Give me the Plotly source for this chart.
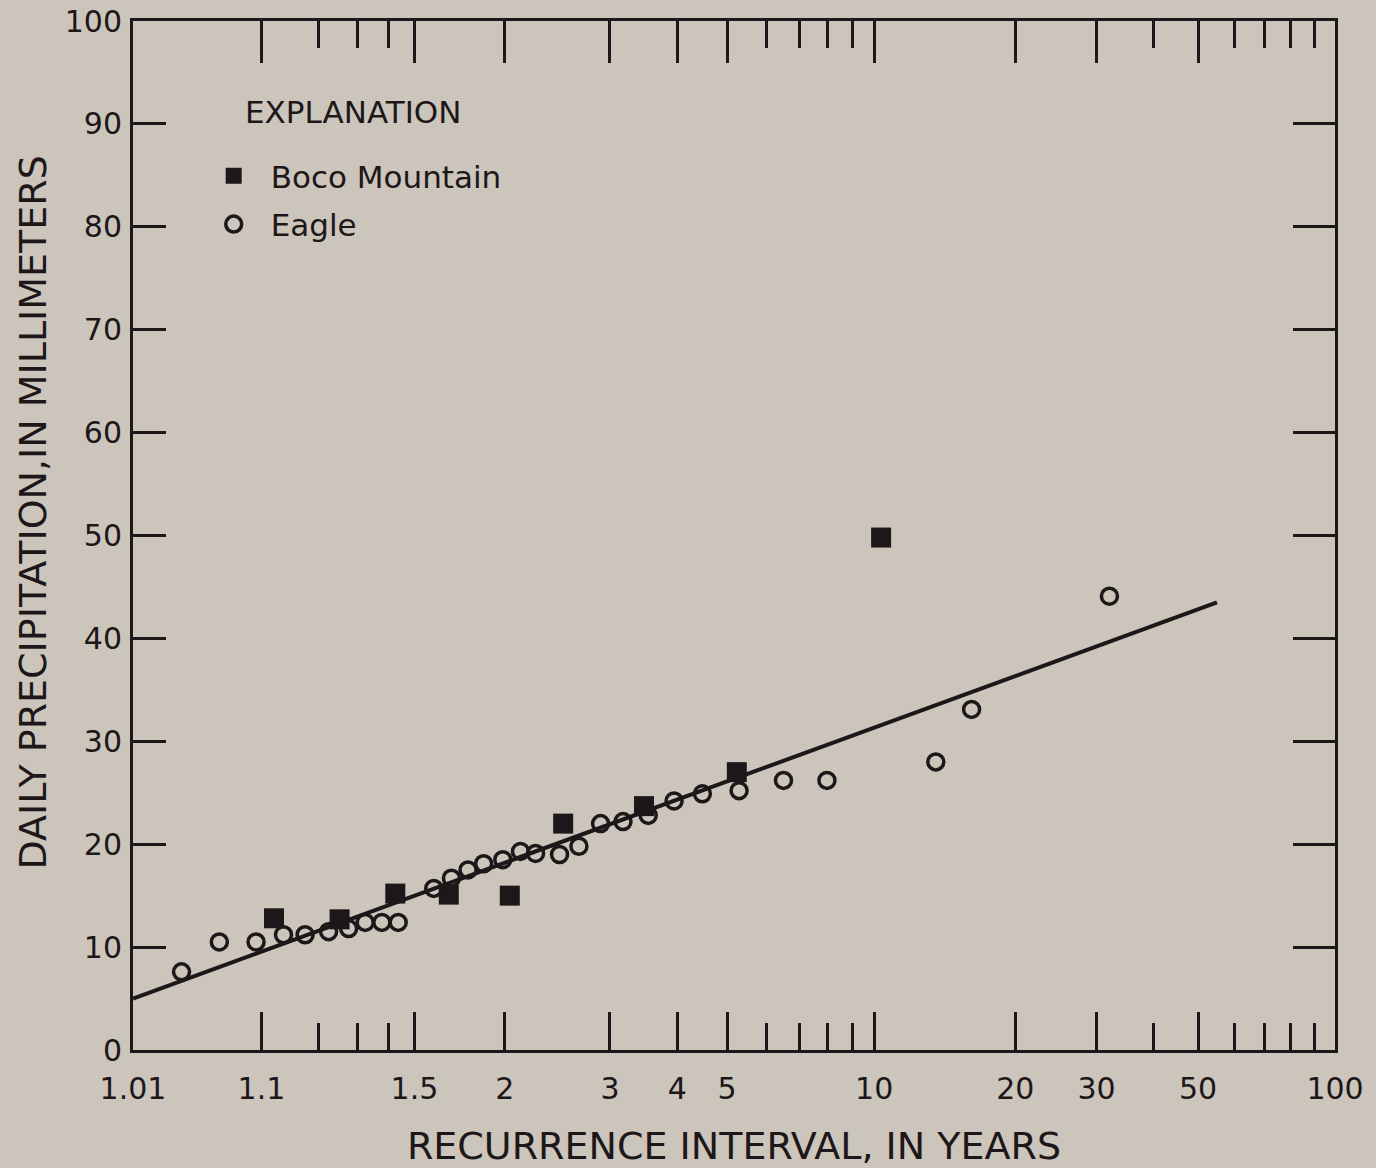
import numpy as np
import plotly.graph_objects as go

# ---- data ----
eagle_T = [1.028, 1.054, 1.093, 1.133, 1.172, 1.223, 1.274, 1.322, 1.376, 1.435,
           1.586, 1.674, 1.765, 1.859, 1.986, 2.116, 2.237, 2.451, 2.645, 2.887,
           3.168, 3.526, 3.945, 4.473, 5.283, 6.49, 7.97, 13.5, 16.1, 32.0]
eagle_P = [7.6, 10.5, 10.5, 11.2, 11.2, 11.5, 11.8, 12.4, 12.4, 12.4,
           15.7, 16.7, 17.5, 18.1, 18.5, 19.3, 19.1, 19.0, 19.8, 22.0,
           22.2, 22.8, 24.2, 24.9, 25.2, 26.2, 26.2, 28.0, 33.1, 44.1]
boco_T = [1.118, 1.250, 1.424, 1.660, 2.036, 2.486, 3.463, 5.228, 10.34]
boco_P = [12.8, 12.7, 15.2, 15.1, 15.0, 22.0, 23.7, 27.0, 49.8]
line_T = [1.01, 55.0]
line_P = [5.0, 43.5]

major_T = [1.01, 1.1, 1.5, 2, 3, 4, 5, 10, 20, 30, 50, 100]
major_labels = ["1.01", "1.1", "1.5", "2", "3", "4", "5", "10", "20", "30", "50", "100"]
minor_T = [1.2, 1.3, 1.4, 6, 7, 8, 9, 40, 60, 70, 80, 90]
y_ticks = [0, 10, 20, 30, 40, 50, 60, 70, 80, 90, 100]


def gumbel(T):
    """Extreme-value (Gumbel) probability scale: reduced variate of recurrence interval."""
    T = np.asarray(T, dtype=float)
    return -np.log(-np.log(1.0 - 1.0 / T))


INK = "#1d1719"
BG = "#ccc5bb"
FONT = "DejaVu Sans"
x_range = [float(gumbel(1.01)), float(gumbel(100))]

fig = go.Figure()
fig.add_trace(go.Scatter(
    x=gumbel(line_T), y=line_P, mode="lines",
    line=dict(color=INK, width=4), showlegend=False, hoverinfo="skip"))
fig.add_trace(go.Scatter(
    x=gumbel(boco_T), y=boco_P, mode="markers", name="Boco Mountain",
    legendgroup="boco",
    marker=dict(symbol="square", size=20, color=INK, line=dict(width=0))))
fig.add_trace(go.Scatter(
    x=gumbel(eagle_T), y=eagle_P, mode="markers", name="Eagle",
    legendgroup="eagle",
    marker=dict(symbol="circle-open", size=16, color=INK, line=dict(width=3.5, color=INK))))
# empty trace so the mirrored top/right axes are drawn
fig.add_trace(go.Scatter(x=[], y=[], xaxis="x2", yaxis="y2", showlegend=False))


def x_axis(major_len):
    return dict(
        range=x_range, showgrid=False, zeroline=False, showline=True, automargin=False,
        linecolor=INK, linewidth=3, ticks="inside", ticklen=major_len, tickwidth=3,
        tickcolor=INK, tickmode="array", tickvals=gumbel(major_T).tolist(),
        minor=dict(tickvals=gumbel(minor_T).tolist(), ticks="inside", ticklen=27,
                   tickwidth=3, tickcolor=INK),
    )


def y_axis(tick_len):
    return dict(
        range=[0, 100], showgrid=False, zeroline=False, showline=True, automargin=False,
        linecolor=INK, linewidth=3, ticks="inside", ticklen=tick_len, tickwidth=3,
        tickcolor=INK, tickmode="array", tickvals=y_ticks,
    )


fig.update_layout(
    width=1376, height=1168,
    margin=dict(l=133, r=41, t=21, b=118),
    paper_bgcolor=BG, plot_bgcolor=BG,
    font=dict(family=FONT, color=INK, size=30),
    xaxis=dict(**x_axis(38), ticktext=major_labels, ticklabelstandoff=10,
               tickfont=dict(size=30, color=INK),
               title=dict(text="RECURRENCE INTERVAL, IN YEARS",
                          font=dict(size=38, color=INK), standoff=34)),
    xaxis2=dict(**x_axis(42), overlaying="x", side="top", anchor="y",
                showticklabels=False),
    yaxis=dict(**y_axis(33), ticklabelstandoff=2,
               tickfont=dict(size=30, color=INK)),
    yaxis2=dict(**y_axis(42), overlaying="y", side="right", anchor="x",
                showticklabels=False),
    legend=dict(
        x=0.053, y=0.8755, xanchor="left", yanchor="top",
        bgcolor="rgba(0,0,0,0)", borderwidth=0,
        font=dict(size=31, color=INK), itemsizing="trace", itemwidth=64,
        tracegroupgap=5,
    ),
    showlegend=True,
    annotations=[
        dict(text="EXPLANATION", xref="paper", yref="paper",
             x=0.0915, y=0.9113, xanchor="left", yanchor="middle",
             showarrow=False, font=dict(size=31, color=INK)),
        # y-axis title, placed where it sits in the original figure
        dict(text="DAILY PRECIPITATION,IN MILLIMETERS", xref="paper", yref="paper",
             x=-0.0835, y=0.522, xanchor="center", yanchor="middle", textangle=-90,
             showarrow=False, font=dict(size=38, color=INK)),
    ],
)

fig.write_html(
    "out.html",
    config={"displayModeBar": False},
    post_script="document.body.style.margin='0';document.body.style.background='%s';" % BG,
)
